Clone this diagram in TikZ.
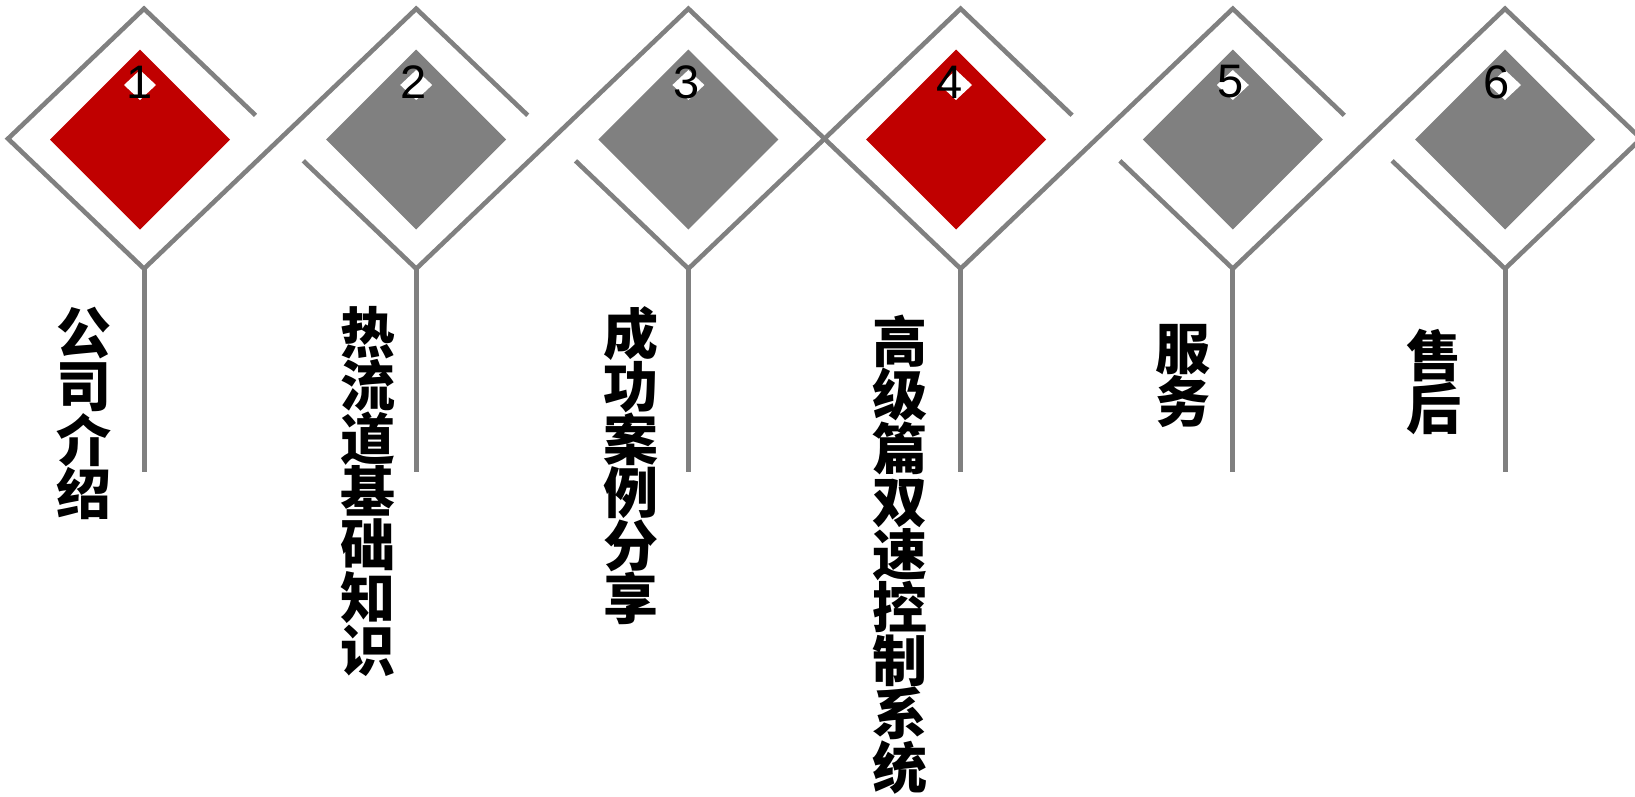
\documentclass[tikz,border=0pt]{standalone}
\usepackage{fontspec}
\setmainfont{Liberation Sans}
\newfontfamily\cjk{Noto Sans CJK SC}
\definecolor{lgray}{RGB}{128,128,128}
\definecolor{dred}{RGB}{192,0,0}
\begin{document}
\begin{tikzpicture}[x=1pt,y=-1pt,
  edge/.style={draw=lgray, line width=4.6pt, line join=miter},
  stemline/.style={draw=lgray, line width=5pt},
  numlabel/.style={font=\fontsize{47}{47}\selectfont, inner sep=0pt, text=black},
  cjklabel/.style={font=\cjk\bfseries\fontsize{55}{53}\selectfont, align=center, inner sep=0pt, text=black}]
\useasboundingbox (0,0) rectangle (1635,796);
\clip (0,0) rectangle (1635,796);
\foreach \k/\col/\dx/\nx in {1/dred/-4/139.5, 2/lgray/0/414, 3/lgray/0/687, 4/dred/-4.6/950, 5/lgray/0/1231, 6/lgray/0/1497}{
  \pgfmathsetmacro{\cx}{144+272.2*(\k-1)}
  \pgfmathsetmacro{\lx}{\cx-136}
  \pgfmathsetmacro{\rx}{\cx+136}
  \pgfmathsetmacro{\ux}{\cx+111.5}
  \pgfmathsetmacro{\wx}{\cx-112.9}
  \pgfmathsetmacro{\ix}{\cx+\dx}
  \coordinate (T\k) at (\cx,8.7);
  \coordinate (B\k) at (\cx,268.7);
  \coordinate (L\k) at (\lx,138.7);
  \coordinate (R\k) at (\rx,138.7);
  \coordinate (U\k) at (\ux,115.3);
  \coordinate (W\k) at (\wx,160.8);
  \coordinate (S\k) at (\cx,472);
  \coordinate (I\k) at (\ix,139.5);
  \fill[\col] (I\k) ++(0,-90) -- ++(90,90) -- ++(-90,90) -- ++(-90,-90) -- cycle;
  \fill[white] (\ix,70) -- ++(16,15) -- ++(-16,15) -- ++(-16,-15) -- cycle;
  \node[numlabel] (n\k) at (\nx,82) {\k};
  \draw[stemline] (B\k) -- (S\k);
}
\draw[edge] (U1) -- (T1) -- (L1) -- (B1) -- (T2) -- (U2);
\draw[edge] (W2) -- (B2) -- (T3) -- (R3) -- (B4) -- (T5) -- (U5);
\draw[edge] (W3) -- (B3) -- (T4) -- (U4);
\draw[edge] (W5) -- (B5) -- (T6) -- (R6) -- (B6) -- (W6);
\node[cjklabel] (t1) at (84,413.4) {公\\司\\介\\绍};
\node[cjklabel] (t2) at (367.5,491.6) {热\\流\\道\\基\\础\\知\\识};
\node[cjklabel] (t3) at (631.4,466.1) {成\\功\\案\\例\\分\\享};
\node[cjklabel] (t4) at (900.4,554.3) {高\\级\\篇\\双\\速\\控\\制\\系\\统};
\node[cjklabel] (t5) at (1182.5,376) {服\\务};
\node[cjklabel] (t6) at (1433.5,382) {售\\后};
\end{tikzpicture}
\end{document}
